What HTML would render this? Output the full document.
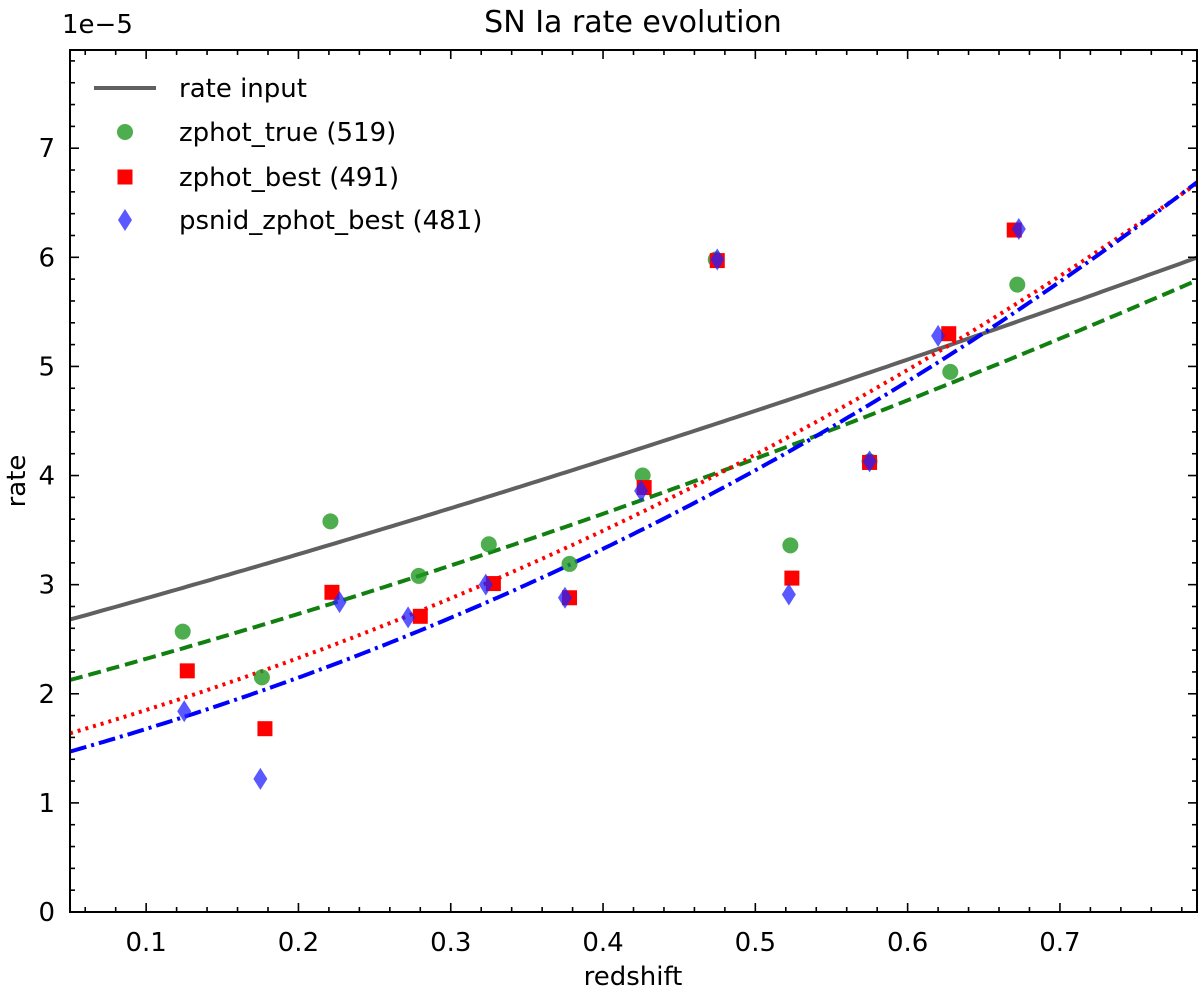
<!DOCTYPE html>
<html><head><meta charset="utf-8"><style>
body{margin:0;background:#fff}
svg{display:block;font-family:"DejaVu Sans","Liberation Sans",sans-serif}
</style></head><body>
<svg id="chart" width="1200" height="991" viewBox="0 0 1200 991" xmlns="http://www.w3.org/2000/svg">
<g id="plot"></g>
</svg>
<script>
const xTicks=[0.1,0.2,0.3,0.4,0.5,0.6,0.7];
const yTicks=[0,1,2,3,4,5,6,7];
const zTrue=[0.124,0.176,0.221,0.279,0.325,0.378,0.426,0.474,0.523,0.575,0.628,0.672];
const rTrue=[2.57,2.15,3.58,3.08,3.37,3.19,4.0,5.98,3.36,4.13,4.95,5.75];
const zBest=[0.127,0.178,0.222,0.28,0.328,0.378,0.427,0.475,0.524,0.575,0.627,0.67];
const rBest=[2.21,1.68,2.93,2.71,3.01,2.88,3.89,5.97,3.06,4.12,5.3,6.25];
const zPsnid=[0.125,0.175,0.227,0.272,0.323,0.375,0.425,0.475,0.522,0.575,0.62,0.673];
const rPsnid=[1.84,1.22,2.84,2.7,3.0,2.88,3.86,5.98,2.91,4.13,5.28,6.26];
const curveAmp=[2.49,1.94,1.44,1.28];
const curveExp=[1.51,1.878,2.635,2.84];
const X0=70,X1=1197,Y0=912,Y1=50,xmin=0.05,xmax=0.79,ymin=0,ymax=7.9;
const sx=v=>X0+(v-xmin)/(xmax-xmin)*(X1-X0);
const sy=v=>Y0-(v-ymin)/(ymax-ymin)*(Y0-Y1);
const NS="http://www.w3.org/2000/svg";
const g=document.getElementById('plot');
function mk(t,a,txt){const e=document.createElementNS(NS,t);for(const k in a)e.setAttribute(k,a[k]);if(txt!==undefined)e.textContent=txt;g.appendChild(e);return e;}
const cstyles=[{s:'#606060',d:'',w:4},{s:'#118011',d:'13,6',w:4},{s:'#ff0000',d:'3,5',w:4},{s:'#0000ff',d:'17,5,3,5',w:4}];
const cnames=['rate-input-curve','zphot-true-fit','zphot-best-fit','psnid-zphot-best-fit'];
for(let i=0;i<curveAmp.length;i++){
  let p='';for(let k=0;k<=200;k++){const z=xmin+(xmax-xmin)*k/200;const r=curveAmp[i]*Math.pow(1+z,curveExp[i]);p+=(k?'L':'M')+sx(z).toFixed(1)+','+sy(r).toFixed(1);}
  const e=mk('path',{d:p,fill:'none',stroke:cstyles[i].s,'stroke-width':cstyles[i].w,'stroke-dasharray':cstyles[i].d,'clip-path':'url(#clip)'});
  
  
}
for(let i=0;i<zTrue.length;i++){
  const e=mk('circle',{cx:sx(zTrue[i]),cy:sy(rTrue[i]),r:8,fill:'#229922','fill-opacity':0.8});
  
  
}
for(let i=0;i<zBest.length;i++){
  const e=mk('rect',{x:sx(zBest[i])-7.5,y:sy(rBest[i])-7.5,width:15,height:15,fill:'#ff0000'});
  
  
}
for(let i=0;i<zPsnid.length;i++){
  const cx=sx(zPsnid[i]),cy=sy(rPsnid[i]);
  const e=mk('polygon',{points:`${cx},${cy-11} ${cx+7},${cy} ${cx},${cy+11} ${cx-7},${cy}`,fill:'#2222ff','fill-opacity':0.75});
  
  
}
const fr=mk('rect',{x:X0,y:Y1,width:X1-X0,height:Y0-Y1,fill:'none',stroke:'#000','stroke-width':2});


for(let v=0.06;v<=0.7801;v+=0.02){const x=sx(v);const maj=Math.abs(v*10-Math.round(v*10))<1e-6;const L=maj?9:5;
  mk('line',{x1:x,y1:Y0,x2:x,y2:Y0-L,stroke:'#000','stroke-width':1.6});mk('line',{x1:x,y1:Y1,x2:x,y2:Y1+L,stroke:'#000','stroke-width':1.6});}
for(let v=0.2;v<=7.81;v+=0.2){const y=sy(v);const maj=Math.abs(v-Math.round(v))<1e-6;const L=maj?9:5;
  mk('line',{x1:X0,y1:y,x2:X0+L,y2:y,stroke:'#000','stroke-width':1.6});mk('line',{x1:X1,y1:y,x2:X1-L,y2:y,stroke:'#000','stroke-width':1.6});}
xTicks.forEach(v=>{const t=mk('text',{x:sx(v),y:951,'font-size':26,'text-anchor':'middle'},v.toFixed(1));
  
  });
yTicks.forEach(v=>{const t=mk('text',{x:55,y:sy(v)+9,'font-size':26,'text-anchor':'end'},String(v));
  
  });
let t;
t=mk('text',{x:633,y:985,'font-size':26,'text-anchor':'middle'},'redshift');


t=mk('text',{x:25,y:481,'font-size':26,'text-anchor':'middle',transform:'rotate(-90 25 481)'},'rate');


t=mk('text',{x:633,y:32,'font-size':30,'text-anchor':'middle'},'SN Ia rate evolution');


t=mk('text',{x:62,y:33,'font-size':26},'1e\u22125');


const lg=[['rate input',88],['zphot_true (519)',132],['zphot_best (491)',177],['psnid_zphot_best (481)',220]];
let e=mk('line',{x1:94,y1:88,x2:156,y2:88,stroke:'#606060','stroke-width':4});


e=mk('circle',{cx:125,cy:132,r:8,fill:'#229922','fill-opacity':0.8});


e=mk('rect',{x:117.5,y:169.5,width:15,height:15,fill:'#ff0000'});


e=mk('polygon',{points:'125,209 132,220 125,231 118,220',fill:'#2222ff','fill-opacity':0.75});


lg.forEach(l=>{const t=mk('text',{x:179,y:l[1]+9,'font-size':26},l[0]);
  
  });
const defs=document.createElementNS(NS,'defs');defs.innerHTML=`<clipPath id="clip"><rect x="${X0}" y="${Y1}" width="${X1-X0}" height="${Y0-Y1}"/></clipPath>`;
document.getElementById('chart').insertBefore(defs,g);
</script>
</body></html>
